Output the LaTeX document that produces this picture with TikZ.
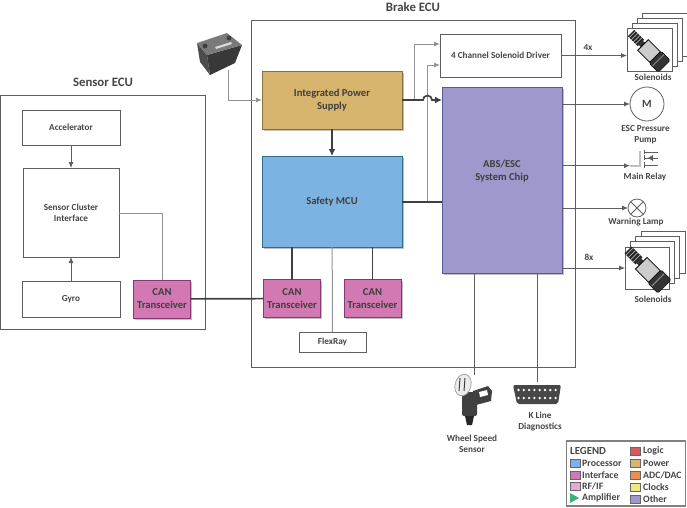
\documentclass[tikz,border=0pt]{standalone}
\usepackage{fontspec}
\setmainfont{Carlito}
\usetikzlibrary{arrows.meta,shadows}
\definecolor{linegray}{HTML}{5E5E5E}
\definecolor{textgray}{HTML}{454545}
\definecolor{procfill}{HTML}{7DB3E2}
\definecolor{procline}{HTML}{2F6E8E}
\definecolor{intffill}{HTML}{D278B2}
\definecolor{intfline}{HTML}{853A72}
\definecolor{rffill}{HTML}{E6A9D0}
\definecolor{powfill}{HTML}{D7B56F}
\definecolor{powline}{HTML}{86703C}
\definecolor{othfill}{HTML}{9E98CC}
\definecolor{othline}{HTML}{5C5797}
\definecolor{logfill}{HTML}{D9575D}
\definecolor{adcfill}{HTML}{EE8E4F}
\definecolor{clkfill}{HTML}{EDE97C}
\definecolor{ampfill}{HTML}{3FAE80}
\tikzset{
  label/.style={font=\fontsize{9.2}{11}\selectfont\bfseries, text=textgray, align=center, inner sep=0pt},
  bigtext/.style={font=\fontsize{12.8}{14}\selectfont\bfseries, text=textgray, inner sep=0pt},
  boldtext/.style={font=\fontsize{10.6}{13}\selectfont\bfseries, text=textgray!90!black, align=center, inner sep=0pt},
  plainbox/.style={draw=linegray, line width=1pt, fill=white, label, outer sep=0pt},
  chipbox/.style={boldtext, outer sep=0pt, line width=1pt, drop shadow={shadow xshift=1.5pt, shadow yshift=-1.5pt, opacity=0.25, fill=black}},
  canbox/.style={chipbox, draw=intfline, fill=intffill, minimum width=57, minimum height=38},
  frame/.style={draw=linegray, fill=white, line width=0.8pt, inner sep=0pt, outer sep=0pt},
  thin line/.style={draw=linegray, line width=0.8pt},
  pale line/.style={draw=gray!85, line width=1pt},
  heavy line/.style={draw=black!75, line width=1.7pt},
  tip/.style={-{Latex[length=6pt,width=5pt]}},
  swatch/.style={draw=black!60, line width=0.7pt, minimum width=10, minimum height=8, inner sep=0pt},
  legendtext/.style={font=\fontsize{9.8}{10}\selectfont\bfseries, text=textgray, anchor=west, inner sep=0pt}
}
% solenoid icon, tip at #1,#2
\newcommand{\solenoid}[3]{
  \begin{scope}[shift={(#1,#2)}, rotate=-45, scale=#3]
    \fill [black!85] (0,-4.5) rectangle (14,4.5);
    \foreach \k in {2,5,8,11} \draw [gray!60, line width=0.7pt] (\k,-4.5) -- (\k,4.5);
    \fill [black!80] (13,-3) rectangle (17,3);
    \draw [black, line width=0.8pt, fill=gray!40] (17,-7.5) rectangle (34,7.5);
    \draw [black, fill=black!80, rounded corners=1.5pt] (34,-8.5) rectangle (47,8.5);
    \fill [black!45] (38,-8) rectangle (39,8);
  \end{scope}
}
\begin{document}
\begin{tikzpicture}[x=1pt,y=1pt]
\useasboundingbox (0,0) rectangle (687,-507);
% ecu frames
\node [bigtext] (braketitle) at (413,-7) {Brake ECU};
\node [draw=linegray, line width=1pt, minimum width=324, minimum height=347, outer sep=0pt, inner sep=0pt] (brake) at (413,-193.5) {};
\node [bigtext] (sensortitle) at (103,-82) {Sensor ECU};
\node [draw=linegray, line width=1pt, minimum width=205.5, minimum height=234, outer sep=0pt, inner sep=0pt] (sensor) at (103.2,-212) {};
% sensor ecu
\node [plainbox, minimum width=98, minimum height=35] (accel) at (71,-127.5) {Accelerator};
\node [plainbox, minimum width=96, minimum height=89] (cluster) at (71,-212.5) {Sensor Cluster\\Interface};
\node [plainbox, minimum width=98, minimum height=36] (gyro) at (71,-299.5) {Gyro};
\node [canbox] (canA) at (162,-299) {CAN\\Transceiver};
% brake ecu
\node [chipbox, draw=powline, fill=powfill, minimum width=140, minimum height=58] (power) at (332,-100) {Integrated Power\\Supply};
\node [chipbox, draw=procline, fill=procfill, minimum width=140, minimum height=91] (mcu) at (332,-201.5) {Safety MCU};
\node [canbox] (canB) at (292,-298.5) {CAN\\Transceiver};
\node [canbox] (canC) at (372.5,-298.5) {CAN\\Transceiver};
\node [plainbox, minimum width=67, minimum height=20] (flex) at (332.5,-342) {FlexRay};
\node [plainbox, minimum width=121, minimum height=43] (driver) at (500.5,-55.5) {4 Channel Solenoid Driver};
\node [chipbox, draw=othline, fill=othfill, minimum width=120, minimum height=186] (abs) at (502,-180) {};
\node [boldtext] (abstext) at (502,-171.5) {ABS/ESC\\System Chip};
% solenoid stacks
\foreach \i in {3,2,1} \draw [frame] (627+5*\i,-28+5*\i) rectangle +(45,-43);
\node [frame, minimum width=45, minimum height=43] (solA) at (649.5,-49.5) {};
\solenoid{631}{-33}{1}
\node [label] (solAtext) at (653,-77) {Solenoids};
\foreach \i in {3,2,1} \draw [frame] (625+5.3*\i,-247+5.3*\i) rectangle +(44,-42);
\node [frame, minimum width=44, minimum height=42] (solB) at (647,-268) {};
\solenoid{628}{-250}{1.1}
\node [label] (solBtext) at (653,-299) {Solenoids};
% pump, relay, lamp
\node [draw=linegray, circle, line width=0.8pt, minimum size=34, inner sep=0pt, outer sep=0pt, font=\fontsize{11}{11}\selectfont\bfseries, text=textgray] (pump) at (647,-104) {M};
\node [label] (pumptext) at (645.5,-134.5) {ESC Pressure\\Pump};
\coordinate (relay) at (630,-165.7);
\draw [gray!50, line width=1.6pt] (relay) -- (640,-165.7) -- (640,-151);
\draw [linegray, line width=0.6pt] (644,-150) -- (644,-154) (644,-155) -- (644,-160) (644,-162) -- (644,-168);
\draw [linegray, line width=0.6pt] (644,-152) -- (658,-152) (644,-165.7) -- (658,-165.7) (658,-158) -- (644,-158);
\fill [linegray] (648,-158) -- (653,-155) -- (653,-161) -- cycle;
\node [label] (relaytext) at (645,-177) {Main Relay};
\node [draw=linegray, circle, line width=0.8pt, minimum size=18, inner sep=0pt, outer sep=0pt] (lamp) at (637,-208) {};
\draw [linegray, line width=0.8pt] (lamp.north west) -- (lamp.south east) (lamp.north east) -- (lamp.south west);
\node [label] (lamptext) at (636,-222) {Warning Lamp};
% battery
\fill [black!70] (197,-43) -- (207,-55) -- (210,-75) -- (200,-62) -- cycle;
\fill [black!78] (207,-55) -- (242,-45) -- (235,-63) -- (210,-75) -- cycle;
\fill [black!52] (197,-43) -- (227,-33) -- (242,-45) -- (207,-55) -- cycle;
\fill [black!15] (215,-47) -- (231,-42) -- (232,-44) -- (216,-49) -- cycle;
\fill [black!75] (205,-46) circle (2.5) (229,-38) circle (2.5);
\coordinate (battery) at (228,-70);
% wheel speed sensor
\fill [black!75, rounded corners=2pt] (462,-392) rectangle (477,-416);
\fill [black!85] (465,-416) -- (474,-416) -- (472,-425) -- (467,-425) -- cycle;
\fill [black!75] (473,-391) -- (488,-386) -- (492,-391) -- (491,-401) -- (476,-405) -- cycle;
\fill [white] (479,-392) -- (487,-390) -- (488,-395) -- (480,-397) -- cycle;
\draw [black!35, fill=gray!15, line width=0.8pt, rotate around={-15:(463,-385)}] (463,-385) ellipse (8 and 11);
\draw [black!75, line width=1pt] (460,-378) -- (459,-391) (465,-378) -- (464,-391);
\coordinate (wheel) at (474.5,-375);
\node [label] (wheeltext) at (472,-443.5) {Wheel Speed\\Sensor};
% k line connector
\fill [black!72, rounded corners=2pt] (513,-385) -- (561,-385) -- (558,-404) -- (517,-404) -- cycle;
\foreach \k in {0,...,7} \fill [white] (518.5+5.3*\k,-390) circle (1.3) (518.5+5.3*\k,-398) circle (1.3);
\coordinate (kline) at (537,-382);
\node [label] (klinetext) at (540,-421.5) {K Line\\Diagnostics};
% connectors
\draw [thin line, tip] (accel) -- (cluster);
\draw [thin line, tip] (gyro) -- (cluster);
\draw [pale line, line width=0.8pt] (cluster.east |- 0,-213) -- (162,-213) -- (canA);
\draw [heavy line] (canA) -- (canB);
\draw [pale line, tip] (battery) |- (power);
\draw [heavy line, -{Latex[length=7pt,width=7pt]}] (power) -- (mcu);
\draw [heavy line] (mcu.south -| canB) -- (canB);
\draw [heavy line] (mcu.south -| canC) -- (canC);
\draw [pale line] (mcu) -- (flex);
\coordinate (hopA) at (423,-100);
\coordinate (hopB) at (432,-100);
\coordinate (busA) at (414,-100);
\coordinate (busB) at (427,-202);
\draw [pale line, tip] (busA) |- (driver.west |- 0,-44);
\draw [pale line, tip] (busB) |- (driver.west |- 0,-65);
\draw [heavy line, -{Latex[length=7pt,width=7pt]}] (power) -- (hopA) arc [start angle=180, end angle=0, radius=4.5pt] -- (abs.west |- hopB);
\draw [heavy line] (mcu.east |- busB) -- (abs.west |- busB);
\draw [thin line, tip] (driver.east) -- (solA.west |- driver.east);
\node [label] (fourx) at (588,-48) {4x};
\draw [thin line, tip] (abs.east |- pump) -- (pump);
\draw [thin line, tip] (abs.east |- relay) -- (relay);
\draw [thin line, tip] (abs.east |- lamp) -- (lamp);
\draw [thin line, tip] (abs.east |- solB) -- (solB);
\node [label] (eightx) at (589,-257) {8x};
\draw [thin line] (abs.south -| wheel) -- (wheel);
\draw [thin line] (abs.south -| kline) -- (kline);
% legend
\node [draw=gray, line width=1.2pt, minimum width=119, minimum height=65, inner sep=0pt, outer sep=0pt] (legend) at (626,-473.5) {};
\node [legendtext, font=\fontsize{10.8}{11}\selectfont\bfseries] (legendtitle) at (570,-450.5) {LEGEND};
\foreach \y/\c/\l/\n in {-463/procfill/Processor/pr, -475/intffill/Interface/in, -486/rffill/RF\slash IF/rf} {
  \node [swatch, fill=\c] (sw\n) at (575,\y) {};
  \node [legendtext] (tx\n) at (582,\y) {\l};
}
\fill [ampfill] (570,-493) -- (579,-498) -- (570,-503) -- cycle;
\node [legendtext] (txam) at (582,-498) {Amplifier};
\foreach \y/\c/\l/\n in {-451/logfill/Logic/lo, -463/powfill/Power/po, -475/adcfill/ADC\slash DAC/ad, -487/clkfill/Clocks/cl, -499/othfill/Other/ot} {
  \node [swatch, fill=\c] (sw\n) at (635,\y) {};
  \node [legendtext] (tx\n) at (643,\y) {\l};
}
\end{tikzpicture}
\end{document}
